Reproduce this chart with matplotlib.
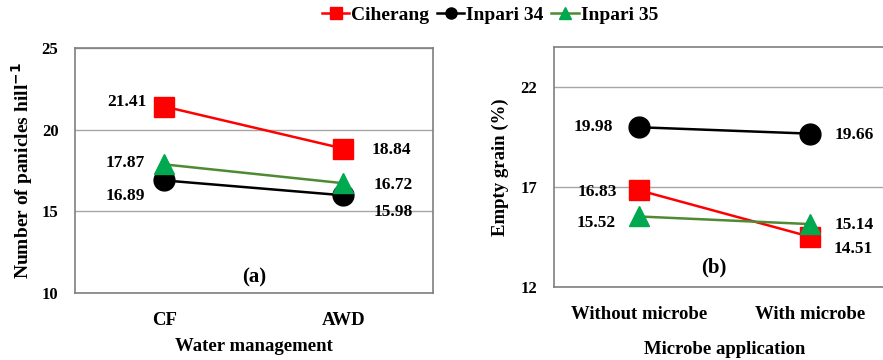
import matplotlib.pyplot as plt
from matplotlib.lines import Line2D

# ============================================================
# Data
# ============================================================

water_labels = ["CF", "AWD"]
microbe_labels = ["Without microbe", "With microbe"]

varieties = ["Ciherang", "Inpari 34", "Inpari 35"]

panicles_ciherang = [21.41, 18.84]
panicles_inpari34 = [16.89, 15.98]
panicles_inpari35 = [17.87, 16.72]

empty_ciherang = [16.83, 14.51]
empty_inpari34 = [19.98, 19.66]
empty_inpari35 = [15.52, 15.14]

# ============================================================
# Style
# ============================================================

plt.rcParams["font.family"] = ["Liberation Serif", "DejaVu Serif"]
plt.rcParams["font.weight"] = "bold"
plt.rcParams["mathtext.default"] = "bf"

styles = {
    "Ciherang": dict(color="#FF0000", marker="s", mfc="#FF0000", mec="#FF0000", ms=15),
    "Inpari 34": dict(color="#000000", marker="o", mfc="#000000", mec="#000000", ms=15),
    "Inpari 35": dict(color="#4E8A32", marker="^", mfc="#00A84F", mec="#00A84F", ms=15),
}

fig = plt.figure(figsize=(8.83, 3.6), dpi=100)

ax1 = fig.add_axes([0.085, 0.186, 0.405, 0.681])
ax2 = fig.add_axes([0.627, 0.203, 0.387, 0.667])


def draw_panel(ax, labels, series, ylim, yticks):
    x = list(range(len(labels)))
    for name, values in series:
        st = styles[name]
        ax.plot(x, values, color=st["color"], lw=1.8, marker=st["marker"],
                markersize=st["ms"], markerfacecolor=st["mfc"],
                markeredgecolor=st["mec"], zorder=3)
    ax.set_xlim(-0.5, 1.5)
    ax.set_ylim(*ylim)
    ax.set_yticks(yticks)
    ax.set_xticks(x)
    ax.set_xticklabels(labels, fontsize=13.5, fontweight="bold")
    ax.tick_params(axis="x", length=0, pad=14)
    ax.tick_params(axis="y", length=0, pad=12, labelsize=12)
    ax.grid(axis="y", color="#A6A6A6", lw=1)
    ax.set_axisbelow(True)
    for sp in ax.spines.values():
        sp.set_color("#7F7F7F")
        sp.set_linewidth(1.2)


def label(ax, x, y, text, dx, dy):
    ax.annotate(text, (x, y), xytext=(dx, dy), textcoords="offset points",
                ha="center", va="center", fontsize=12.5, fontweight="bold")


# ============================================================
# Panel (a)
# ============================================================

draw_panel(ax1, water_labels,
           [("Inpari 34", panicles_inpari34),
            ("Inpari 35", panicles_inpari35),
            ("Ciherang", panicles_ciherang)],
           (10, 25), [10, 15, 20, 25])

label(ax1, 0, panicles_ciherang[0], "21.41", -27, 3)
label(ax1, 1, panicles_ciherang[1], "18.84", 35, -1)
label(ax1, 0, panicles_inpari35[0], "17.87", -28, 1)
label(ax1, 1, panicles_inpari35[1], "16.72", 36, -1)
label(ax1, 0, panicles_inpari34[0], "16.89", -28, -11)
label(ax1, 1, panicles_inpari34[1], "15.98", 36, -12)

ax1.set_ylabel("Number of panicles hill$^{-1}$", fontsize=14, fontweight="bold", labelpad=5)
ax1.set_xlabel("Water management", fontsize=13.5, fontweight="bold", labelpad=6)
ax1.text(0.5, 0.065, "(a)", transform=ax1.transAxes, ha="center", va="center",
         fontsize=15, fontweight="bold")

# ============================================================
# Panel (b)
# ============================================================

draw_panel(ax2, microbe_labels,
           [("Inpari 34", empty_inpari34),
            ("Ciherang", empty_ciherang),
            ("Inpari 35", empty_inpari35)],
           (12, 24), [12, 17, 22])

label(ax2, 0, empty_inpari34[0], "19.98", -33, 0)
label(ax2, 1, empty_inpari34[1], "19.66", 32, -1)
label(ax2, 0, empty_ciherang[0], "16.83", -30, -1)
label(ax2, 0, empty_inpari35[0], "15.52", -31, -5)
label(ax2, 1, empty_inpari35[1], "15.14", 32, -1)
label(ax2, 1, empty_ciherang[1], "14.51", 31, -9)

ax2.set_ylabel("Empty grain (%)", fontsize=13.5, fontweight="bold", labelpad=8)
ax2.set_xlabel("Microbe application", fontsize=13.5, fontweight="bold", labelpad=13)
ax2.text(0.47, 0.08, "(b)", transform=ax2.transAxes, ha="center", va="center",
         fontsize=15, fontweight="bold")

# ============================================================
# Legend
# ============================================================

handles = []
for name in varieties:
    st = styles[name]
    handles.append(Line2D([], [], color=st["color"], lw=1.8, marker=st["marker"],
                          markersize=8, markerfacecolor=st["mfc"],
                          markeredgecolor=st["mec"]))

fig.legend(handles, varieties, loc="center", bbox_to_anchor=(0.555, 0.957),
           ncol=3, frameon=False, handlelength=1.4, handletextpad=0.1,
           columnspacing=0.4, prop={"size": 14, "weight": "bold"})

fig.savefig("out.png", dpi=100)
